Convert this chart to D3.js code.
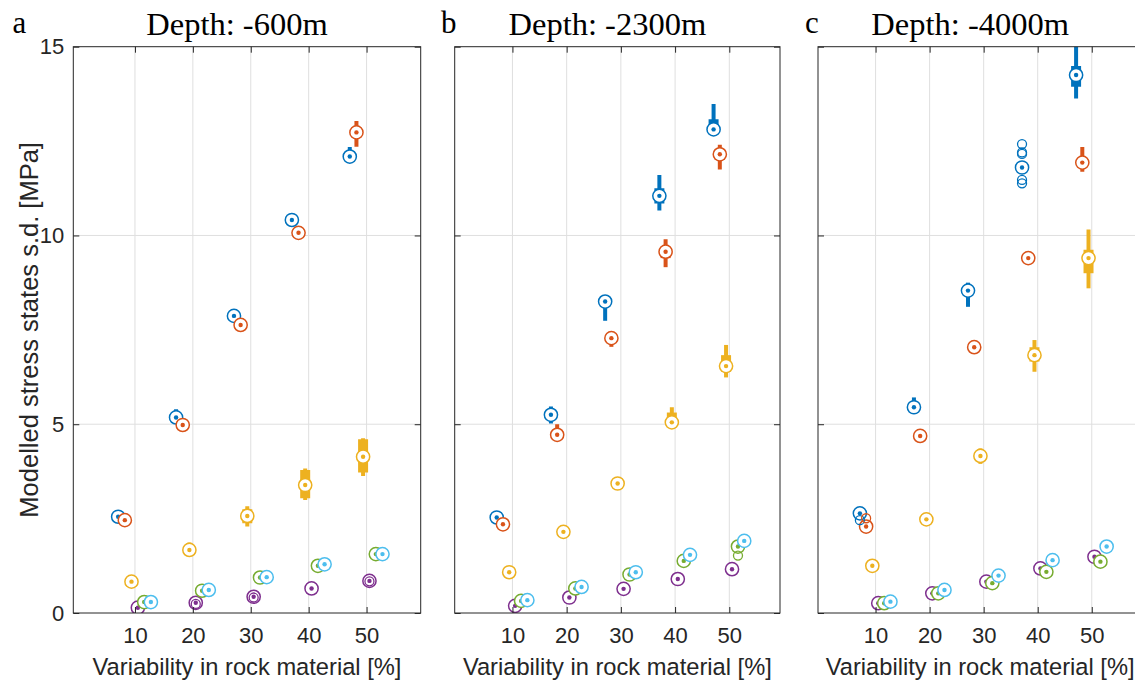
<!DOCTYPE html>
<html>
<head>
<meta charset="utf-8">
<script src="https://cdnjs.cloudflare.com/ajax/libs/d3/7.8.5/d3.min.js"></script>
<style>
body { margin: 0; background: #fff; }
</style>
</head>
<body>
<div id="chart"></div>
<script>
// x categories and the y ticks
var categories = [10, 20, 30, 40, 50];
var y_ticks = [0, 5, 10, 15];
var panel_letters = ['a', 'b', 'c'];
var panel_titles = ['Depth: -600m', 'Depth: -2300m', 'Depth: -4000m'];

// series order: blue, orange, yellow, purple, green, cyan ; each row = one series over the 5 categories
// Depth -600m
var a_med = [[2.55, 5.18, 7.87, 10.41, 12.09], [2.46, 4.98, 7.63, 10.07, 12.73], [0.83, 1.67, 2.57, 3.39, 4.14],
	[0.14, 0.27, 0.43, 0.65, 0.85], [0.29, 0.59, 0.94, 1.25, 1.56], [0.29, 0.61, 0.95, 1.29, 1.56]];
var a_q1 = [[2.52, 5.12, 7.83, 10.36, 12.02], [2.43, 4.94, 7.59, 10.03, 12.60], [0.80, 1.63, 2.38, 3.04, 3.72],
	[0.12, 0.25, 0.41, 0.63, 0.83], [0.27, 0.57, 0.92, 1.23, 1.54], [0.27, 0.59, 0.93, 1.27, 1.54]];
var a_q3 = [[2.58, 5.28, 7.92, 10.48, 12.20], [2.49, 5.02, 7.67, 10.11, 12.85], [0.86, 1.75, 2.75, 3.79, 4.60],
	[0.16, 0.29, 0.45, 0.67, 0.87], [0.31, 0.61, 0.96, 1.27, 1.58], [0.31, 0.63, 0.97, 1.31, 1.58]];
var a_lo = [[2.50, 5.08, 7.80, 10.33, 11.98], [2.40, 4.90, 7.55, 10.00, 12.35], [0.78, 1.60, 2.29, 2.99, 3.63],
	[0.10, 0.23, 0.39, 0.61, 0.81], [0.25, 0.55, 0.90, 1.21, 1.52], [0.25, 0.57, 0.91, 1.25, 1.52]];
var a_hi = [[2.60, 5.40, 7.95, 10.58, 12.34], [2.52, 5.05, 7.70, 10.14, 13.03], [0.88, 1.87, 2.83, 3.83, 4.63],
	[0.18, 0.31, 0.47, 0.69, 0.89], [0.33, 0.63, 0.98, 1.29, 1.60], [0.33, 0.65, 0.99, 1.33, 1.60]];
var a_out = [[3, 1, 0.24], [3, 2, 0.41], [3, 4, 0.84]];

// Depth -2300m
var b_med = [[2.53, 5.25, 8.25, 11.05, 12.81], [2.35, 4.72, 7.28, 9.57, 12.15], [1.08, 2.15, 3.43, 5.05, 6.54],
	[0.19, 0.41, 0.64, 0.90, 1.16], [0.32, 0.65, 1.02, 1.38, 1.76], [0.34, 0.69, 1.08, 1.54, 1.91]];
var b_q1 = [[2.50, 5.18, 8.12, 10.85, 12.72], [2.32, 4.68, 7.24, 9.40, 12.00], [1.05, 2.12, 3.40, 5.00, 6.39],
	[0.17, 0.39, 0.62, 0.88, 1.14], [0.30, 0.63, 1.00, 1.36, 1.74], [0.32, 0.67, 1.06, 1.52, 1.89]];
var b_q3 = [[2.56, 5.32, 8.32, 11.25, 13.08], [2.38, 4.78, 7.32, 9.70, 12.28], [1.11, 2.18, 3.46, 5.31, 6.83],
	[0.21, 0.43, 0.66, 0.92, 1.18], [0.34, 0.67, 1.04, 1.40, 1.78], [0.36, 0.71, 1.10, 1.56, 1.93]];
var b_lo = [[2.48, 5.02, 7.74, 10.66, 12.65], [2.30, 4.62, 7.05, 9.16, 11.75], [1.02, 2.10, 3.38, 4.95, 6.24],
	[0.15, 0.37, 0.60, 0.86, 1.12], [0.28, 0.61, 0.98, 1.34, 1.72], [0.30, 0.65, 1.04, 1.50, 1.87]];
var b_hi = [[2.58, 5.47, 8.35, 11.60, 13.48], [2.40, 5.00, 7.35, 9.90, 12.40], [1.13, 2.20, 3.48, 5.45, 7.10],
	[0.23, 0.45, 0.68, 0.94, 1.20], [0.36, 0.69, 1.06, 1.42, 1.80], [0.38, 0.73, 1.12, 1.58, 1.95]];
var b_out = [[4, 4, 1.52]];

// Depth -4000m
var c_med = [[2.64, 5.45, 8.54, 11.80, 14.25], [2.29, 4.69, 7.04, 9.40, 11.93], [1.25, 2.48, 4.16, 6.83, 9.40],
	[0.26, 0.52, 0.83, 1.18, 1.49], [0.26, 0.52, 0.79, 1.09, 1.36], [0.30, 0.61, 0.99, 1.40, 1.76]];
var c_q1 = [[2.58, 5.38, 8.40, 11.72, 13.94], [2.25, 4.65, 7.00, 9.36, 11.85], [1.22, 2.45, 4.08, 6.66, 9.00],
	[0.24, 0.50, 0.81, 1.16, 1.47], [0.24, 0.50, 0.77, 1.07, 1.34], [0.28, 0.59, 0.97, 1.38, 1.74]];
var c_q3 = [[2.70, 5.52, 8.62, 11.88, 14.49], [2.33, 4.73, 7.08, 9.44, 12.02], [1.28, 2.52, 4.24, 7.04, 9.62],
	[0.28, 0.54, 0.85, 1.20, 1.51], [0.28, 0.54, 0.81, 1.11, 1.38], [0.32, 0.63, 1.01, 1.42, 1.78]];
var c_lo = [[2.55, 5.27, 8.11, 11.65, 13.63], [2.22, 4.62, 6.97, 9.33, 11.69], [1.20, 2.42, 3.95, 6.39, 8.60],
	[0.22, 0.48, 0.79, 1.14, 1.45], [0.22, 0.48, 0.75, 1.05, 1.32], [0.26, 0.57, 0.95, 1.36, 1.72]];
var c_hi = [[2.75, 5.71, 8.75, 11.95, 15.50], [2.36, 4.76, 7.11, 9.47, 12.34], [1.30, 2.55, 4.36, 7.23, 10.16],
	[0.30, 0.56, 0.87, 1.22, 1.53], [0.30, 0.56, 0.83, 1.13, 1.40], [0.34, 0.65, 1.03, 1.44, 1.80]];
var c_out = [[0, 0, 2.46], [1, 0, 2.51], [0, 3, 12.42], [0, 3, 12.20], [0, 3, 12.16], [0, 3, 11.47], [0, 3, 11.38]];

// styling
var colors = ['#0072BD', '#D95319', '#EDB120', '#7E2F8E', '#77AC30', '#4DBEEE'];
var offsets = [-2.9, -1.75, -0.6, 0.5, 1.6, 2.75];
var axis_color = '#262626';
var grid_color = '#dfdfdf';
var sans = "'Liberation Sans', Arial, sans-serif";
var serif = "'Liberation Serif', 'Times New Roman', serif";

var svg = d3.select('#chart').append('svg')
	.attr('width', 1135).attr('height', 682);

function DrawPanel(){
	var id;
	var left, right;
	var top = 46.7;
	var bottom = 613;
	var med, q1, q3, lo, hi, out;
	var letter, letter_x, title;
	var y_labels = false;

	this.draw = function(){
		var x = d3.scaleLinear().domain([-0.65, 59.35]).range([left, right]);
		var y = d3.scaleLinear().domain([0, 15]).range([bottom, top]);
		var g = svg.append('g');

		g.append('clipPath').attr('id', 'clip' + id).append('rect')
		.attr('x', left).attr('y', top)
		.attr('width', right - left).attr('height', bottom - top);

		// grid
		var grid = g.append('g');
		grid.selectAll('.gx').data(categories).enter().append('line')
		.attr('x1', function(d){ return x(d); }).attr('x2', function(d){ return x(d); })
		.attr('y1', top).attr('y2', bottom)
		.attr('stroke', grid_color).attr('stroke-width', 1);
		grid.selectAll('.gy').data([5, 10]).enter().append('line')
		.attr('y1', function(d){ return y(d); }).attr('y2', function(d){ return y(d); })
		.attr('x1', left).attr('x2', right)
		.attr('stroke', grid_color).attr('stroke-width', 1);

		// boxes
		var boxes = [];
		med.forEach(function(row, s){
			row.forEach(function(v, k){
				boxes.push({s: s, k: k, med: v, q1: q1[s][k], q3: q3[s][k], lo: lo[s][k], hi: hi[s][k]});
			});
		});

		var plot = g.append('g').attr('clip-path', 'url(#clip' + id + ')');

		var boxEnter = plot.selectAll('.box').data(boxes).enter().append('g')
		.attr('class', 'box')
		.attr('transform', function(d){
			return 'translate(' + [x(categories[d.k] + offsets[d.s]), 0] + ')';
		});

		boxEnter.append('line')
		.attr('y1', function(d){ return y(d.lo); })
		.attr('y2', function(d){ return y(d.hi); })
		.attr('stroke', function(d){ return colors[d.s]; })
		.attr('stroke-width', 4);

		boxEnter.append('line')
		.attr('y1', function(d){ return y(d.q1); })
		.attr('y2', function(d){ return y(d.q3); })
		.attr('stroke', function(d){ return colors[d.s]; })
		.attr('stroke-width', 10);

		boxEnter.append('circle')
		.attr('cy', function(d){ return y(d.med); })
		.attr('r', 6.6)
		.attr('fill', '#fff')
		.attr('stroke', function(d){ return colors[d.s]; })
		.attr('stroke-width', 1.5);

		boxEnter.append('circle')
		.attr('cy', function(d){ return y(d.med); })
		.attr('r', 2.2)
		.attr('fill', function(d){ return colors[d.s]; });

		plot.selectAll('.outlier').data(out).enter().append('circle')
		.attr('class', 'outlier')
		.attr('cx', function(d){ return x(categories[d[1]] + offsets[d[0]]); })
		.attr('cy', function(d){ return y(d[2]); })
		.attr('r', 4.5)
		.attr('fill', 'none')
		.attr('stroke', function(d){ return colors[d[0]]; })
		.attr('stroke-width', 1.3);

		// axes, ticks pointing inwards on all four sides
		var ax_b = g.append('g').attr('transform', 'translate(0,' + bottom + ')')
		.call(d3.axisBottom(x).tickValues(categories).tickSize(-6).tickSizeOuter(0).tickPadding(14.5));
		var ax_t = g.append('g').attr('transform', 'translate(0,' + top + ')')
		.call(d3.axisTop(x).tickValues(categories).tickSize(-6).tickSizeOuter(0).tickFormat(''));
		var ax_l = g.append('g').attr('transform', 'translate(' + left + ',0)')
		.call(d3.axisLeft(y).tickValues(y_ticks).tickSize(-6).tickSizeOuter(0).tickPadding(9)
			.tickFormat(y_labels ? d3.format('d') : ''));
		var ax_r = g.append('g').attr('transform', 'translate(' + right + ',0)')
		.call(d3.axisRight(y).tickValues(y_ticks).tickSize(-6).tickSizeOuter(0).tickFormat(''));

		[ax_b, ax_t, ax_l, ax_r].forEach(function(a){
			a.select('.domain').remove();
			a.selectAll('line').attr('stroke', axis_color);
			a.selectAll('text').attr('fill', axis_color)
			.style('font-family', sans).style('font-size', '22px');
		});

		g.append('rect')
		.attr('x', left).attr('y', top)
		.attr('width', right - left).attr('height', bottom - top)
		.attr('fill', 'none').attr('stroke', axis_color).attr('stroke-width', 1);

		g.append('text')
		.attr('x', (left + right) / 2).attr('y', 675)
		.attr('text-anchor', 'middle')
		.attr('fill', axis_color)
		.style('font-family', sans).style('font-size', '23.7px')
		.text('Variability in rock material [%]');

		if (y_labels){
			g.append('text')
			.attr('transform', 'translate(38,' + ((top + bottom) / 2) + ') rotate(-90)')
			.attr('text-anchor', 'middle')
			.attr('fill', axis_color)
			.style('font-family', sans).style('font-size', '25.5px')
			.text('Modelled stress states s.d. [MPa]');
		}

		g.append('text')
		.attr('x', (left + right) / 2 - 10).attr('y', 35)
		.attr('text-anchor', 'middle')
		.attr('fill', '#000')
		.style('font-family', serif).style('font-size', '32.5px')
		.text(title);

		g.append('text')
		.attr('x', letter_x).attr('y', 33)
		.attr('fill', '#000')
		.style('font-family', serif).style('font-size', '31px')
		.text(letter);
	};

	this.id = function(_){ return (arguments.length > 0) ? (id = _, this) : id; };
	this.bounds = function(l, r){ left = l; right = r; return this; };
	this.data = function(m, a, b, c, d, o){
		med = m; q1 = a; q3 = b; lo = c; hi = d; out = o;
		return this;
	};
	this.letter = function(_, lx){ letter = _; letter_x = lx; return this; };
	this.title = function(_){ return (arguments.length > 0) ? (title = _, this) : title; };
	this.y_labels = function(_){ return (arguments.length > 0) ? (y_labels = _, this) : y_labels; };
}

new DrawPanel().id('a').bounds(73.3, 420.7).data(a_med, a_q1, a_q3, a_lo, a_hi, a_out)
	.letter(panel_letters[0], 12.5).title(panel_titles[0]).y_labels(true).draw();
new DrawPanel().id('b').bounds(454.7, 780).data(b_med, b_q1, b_q3, b_lo, b_hi, b_out)
	.letter(panel_letters[1], 441).title(panel_titles[1]).draw();
new DrawPanel().id('c').bounds(818, 1142.3).data(c_med, c_q1, c_q3, c_lo, c_hi, c_out)
	.letter(panel_letters[2], 805).title(panel_titles[2]).draw();
</script>
</body>
</html>
